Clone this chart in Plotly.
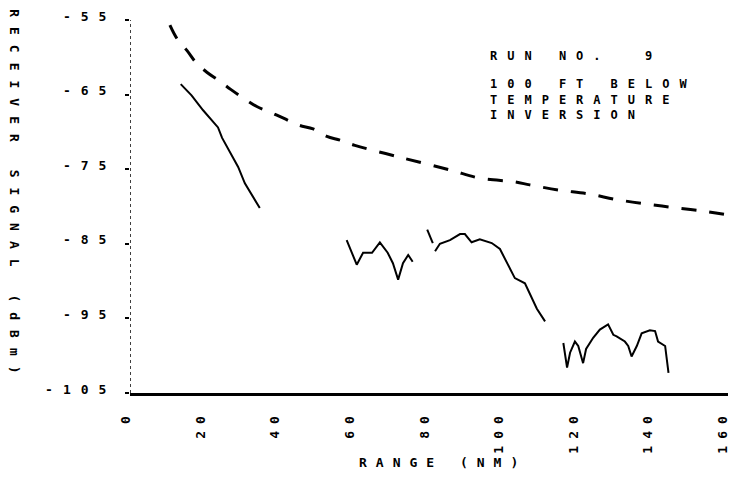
import plotly.graph_objects as go

# ---- data (range in NM, signal in dBm) ----
free_space_x = [10.7, 12.6, 15.3, 17.7, 20.6, 24.1, 27.0, 30.5, 34.0, 37.8, 41.3, 45.3, 49.1, 52.8,
                56.3, 60.3, 72.4, 85.8, 93.8, 103.2, 107.2, 115.0, 122.8, 130.8, 138.9, 146.7, 154.9, 162.2]
free_space_y = [-55.7, -57.5, -59.1, -60.7, -62.0, -63.2, -64.3, -65.5, -66.6, -67.4, -68.2, -69.1, -69.6, -70.6,
                -71.1, -71.8, -73.4, -75.1, -76.2, -76.7, -77.1, -77.8, -78.3, -79.1, -79.7, -80.2, -80.7, -81.3]

seg1_x = [13.6, 16.5, 19.6, 23.6, 24.7, 26.8, 29.0, 30.8, 33.0, 34.8]
seg1_y = [-63.6, -65.1, -67.1, -69.4, -70.8, -72.8, -74.7, -76.9, -78.7, -80.2]

seg2_x = [58.1, 60.8, 62.5, 64.9, 67.0, 69.1, 70.5, 71.9, 73.2, 74.6, 75.8]
seg2_y = [-84.5, -87.8, -86.2, -86.2, -84.8, -86.2, -87.6, -89.8, -87.6, -86.5, -87.4]

seg3_x = [79.7, 81.2]
seg3_y = [-83.1, -84.9]

seg4_x = [81.8, 83.1, 85.8, 88.5, 89.8, 91.6, 93.8, 97.0, 99.2, 101.0, 103.2, 105.9, 107.7, 109.1, 111.3]
seg4_y = [-86.0, -85.0, -84.5, -83.7, -83.7, -84.8, -84.4, -84.9, -85.7, -87.4, -89.6, -90.3, -92.3, -93.7, -95.4]

seg5_x = [116.2, 117.2, 118.0, 119.3, 120.2, 121.5, 122.3, 124.2, 126.0, 128.2, 129.6, 130.5, 132.7, 133.6,
          134.5, 135.9, 137.2, 139.4, 140.8, 141.6, 143.5, 144.4]
seg5_y = [-98.3, -101.6, -99.6, -98.1, -98.7, -101.0, -99.1, -97.6, -96.5, -95.8, -97.2, -97.4, -98.1, -98.7,
          -100.1, -98.7, -97.0, -96.6, -96.7, -98.1, -98.7, -102.3]

x_ticks = [0, 20, 40, 60, 80, 100, 120, 140, 160]
y_ticks = [-55, -65, -75, -85, -95, -105]

FONT = "DejaVu Sans Mono"


def spaced(s, sp):
    return '<span style="letter-spacing:%dpx">%s</span>' % (sp, s)


fig = go.Figure()
fig.add_trace(go.Scatter(x=free_space_x, y=free_space_y, mode="lines", line_shape="spline",
                         line=dict(color="black", width=3, dash="15px,13px"), showlegend=False))
for sx, sy in [(seg1_x, seg1_y), (seg2_x, seg2_y), (seg3_x, seg3_y), (seg4_x, seg4_y), (seg5_x, seg5_y)]:
    fig.add_trace(go.Scatter(x=sx, y=sy, mode="lines",
                             line=dict(color="black", width=2), showlegend=False))

# dotted y-axis line
fig.add_shape(type="line", xref="x", yref="paper", x0=0, x1=0, y0=0, y1=1,
              line=dict(color="black", width=1.5, dash="dot"))

tick_font = dict(family=FONT, size=13, color="black", weight="bold")
note_font = dict(family=FONT, size=12, color="black", weight="bold")

# the page body has an 8px margin, so the figure is sized/offset to fill the window
fig.update_layout(
    width=728, height=481,
    margin=dict(l=122, r=0, t=12, b=96),
    paper_bgcolor="white", plot_bgcolor="white",
    xaxis=dict(range=[0, 162.5], tickvals=x_ticks, automargin=False,
               ticktext=[spaced(str(v), 7) for v in x_ticks],
               tickangle=-90, showgrid=False, zeroline=False,
               showline=True, linewidth=3, linecolor="black", ticks="",
               tickfont=tick_font, ticklabelstandoff=8, ticklabelshift=-4),
    yaxis=dict(range=[-105, -55], tickvals=y_ticks, automargin=False,
               ticktext=[spaced(str(v), 10) for v in y_ticks],
               showgrid=False, zeroline=False, showline=False,
               ticks="outside", ticklen=4, tickwidth=1.5, tickcolor="black",
               tickfont=tick_font, ticklabelstandoff=6, ticklabelshift=-4),
    annotations=[
        dict(text=spaced("RANGE (NM)", 9), xref="paper", yref="paper", x=0.516, y=-0.185,
             showarrow=False, xanchor="center", yanchor="middle", font=tick_font),
        dict(text=spaced("RECEIVER SIGNAL (dBm)", 10), xref="paper", yref="paper", x=-0.19, y=0.528,
             textangle=90, showarrow=False, xanchor="center", yanchor="middle", font=tick_font),
        dict(text=spaced("RUN NO.  9", 10), xref="paper", yref="paper", x=0.591, y=0.903,
             showarrow=False, xanchor="left", yanchor="middle", font=note_font),
        dict(text="<br>".join(spaced(s, 10) for s in ["100 FT BELOW", "TEMPERATURE", "INVERSION"]),
             xref="paper", yref="paper", x=0.591, y=0.787, align="left",
             showarrow=False, xanchor="left", yanchor="middle", font=note_font),
    ],
)

fig.write_html("out.html")
